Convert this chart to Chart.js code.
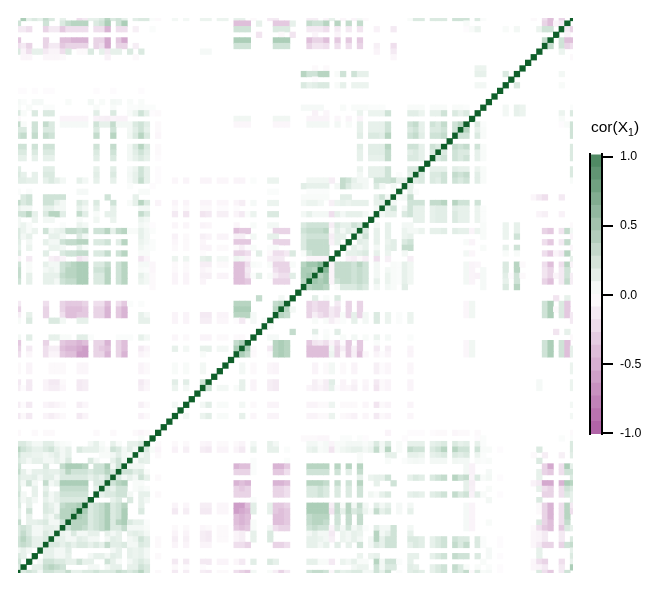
<!DOCTYPE html>
<html>
<head>
  <meta charset="UTF-8">
  <title>cor(X1)</title>
  <script src="https://cdn.jsdelivr.net/npm/chart.js"></script>
  <style>
    body { margin: 0; background: #fff; }
    canvas { position: absolute; }
    #legendTitle { position: absolute; left: 591px; top: 118px; font: 15.5px "Liberation Sans", Arial, sans-serif; color: #000; white-space: nowrap; }
    #legendTitle sub { font-size: 10.5px; line-height: 0; }
  </style>
</head>
<body>
  <canvas id="heat" width="661" height="590" style="left:0;top:0"></canvas>
  <canvas id="bar" width="86" height="310" style="left:575px;top:140px"></canvas>
  <div id="legendTitle">cor(X<sub>1</sub>)</div>
  <script>
    // variables 0..99, bottom-left to top-right
    const variables = Array.from({ length: 100 }, (_, i) => String(i));
    const barTicks = [-1, -0.5, 0, 0.5, 1];
    const barBins = 22;

    // below-diagonal readings, one string per row from the bottom: "col:value" in hundredths
    const rowsA = [
      "", "0:15", "0:20", "0:15 1:10", "0:5 1:10 2:5",
      "0:20 1:25 2:20 3:10 4:10",
      "0:20 1:30 2:20 3:10 4:10 5:15",
      "0:15 1:25 2:15 3:5 4:5 5:15 6:10",
      "0:15 1:20 2:15 3:5 4:5 5:10 6:10 7:8",
      "0:25 2:10 3:10 4:12 5:15 6:5 7:5 8:20",
      "0:10 2:10 5:10 6:5 7:15 8:30 9:30",
      "0:10 2:20 5:15 6:12 7:5 8:30 9:30 10:35",
      "0:15 2:10 5:15 6:10 7:5 8:25 9:30 10:30 11:35",
      "0:15 1:5 2:10 3:5 5:10 6:5 7:10 8-12:15",
      "0:20 1:5 3:10 5:15 6:5 7:10 8-12:20",
      "0:15 3:10 5:10 8-12:25 14:10",
      "0:15 1:5 2:20 3:5 5:25 6:5 7:10 8-12:35 14:15 15:15",
      "0:15 1:10 2:10 3:12 4:5 5:12 6:12 7:5 8-12:15 13:10 14:15 15:10 16:20",
      "0:25 1:10 2:3 3:10 4:10 5:12 6:10 7:10 8:15 9:30 10-12:20 13:15 14:20 15:20 16:30 17:15",
      "0:20 5:15 8:25 9-11:35 12:30 14:20 15:20 16:35 17:5 18:20",
      "0:15 1:10 2:5 3:10 4:10 5:5 6:5 7:10 8:5 9:15 13:15 14:5 17:10 18:20 19:5",
      "0:20 1:10 2:10 3:8 4:8 5:5 6:8 7:12 8:5 9:10 15:3 16:3 17:5 18:12 19:5 20:3",
      "0:30 1:20 2:15 3:10 4:10 5:15 6:20 7:10 8:5 9:10 11:15 12:10 13:10 14:10 15:5 16:3 17:20 18:15 19:5 20:12 21:5",
      "0:15 1:15 2:10 3:5 4:5 5:12 6:12 7:5 8:3 9:2 13:5 14:10 15:3 17:10 18:3 20:10 21:10 22:15",
      "22:3",
      "0:-3 3:-3 5:-3 6:-3 14:-3 17:-3 21:-3 22:-5 23:-3",
      "", "",
      "0:-10 1:-3 2:-10 5:-5 6:-8 7:-5 8:-3 11:-10 12:-5 22:-6 23:-3",
      "",
      "0:-8 1:-2 2:-10 5:-5 6:-7 7:-5 8:-3 11:-8 12:-4 22:-7 23:-3 28:5",
      "", "",
      "0:-8 1:-2 2:-10 5:-5 6:-8 7:-8 8:-4 11:-10 12:-8 22:-8 23:-4 28:8 30:5",
      "0:-10 2:-10 5:-5 6:-10 7:-10 8:-3 11:-10 12:-8 22:-10 23:-5 28:12 30:12 33:20",
      "",
      "0:-3 2:-5 6-8:-3 11:-4 12:-4 22:-5 23:-3 28:3 30:3 33:5",
      "0:-3 2:-5 6-8:-3 11:-4 12:-4 22:-5 23:-3 28:3 30:3 33:5",
      "",
      "0:-15 2:-4 5:-15 6:-5 7:-5 8:-25 9:-30 10:-30 11:-45 12:-45 14:-20 15:-20 16:-35 18:-20 19:-35 22:-5 23:-3 33:3"
    ];
    const rowsB = [
      "0:-20 2:-10 5:-15 6:-8 7:-8 8:-30 9:-35 10:-35 11:-40 12:-45 14:-20 15:-25 16:-30 18:-20 19:-30 22:-10 23:-5 28:10 30:5 33:10 34:10 36:5 37:5 39:35",
      "0:-25 5:-20 8:-25 9:-30 10:-30 11:-35 12:-30 14:-20 15:-20 16:-35 18:-20 19:-30 39:25 40:35",
      "0:5 2:12 6:10 7:10 8:3 9:3 11:12 12:12 13:2 18-20:2 22:10 23:5 28:-4 30:-3 33:-5 34:-5 36:-3 37:-3 39:-3 40:-3",
      "", "",
      "0:3 2:15 6:15 7:15 8:5 11:10 12:10 22:10 23:10 28:-5 30:-5 33:-8 34:-8 36:-4 37:-4 39:-2 40:-10 42:4 44:3",
      "0:-8 2:10 5:-20 8:-15 9:-30 10:-30 11:-25 12:-25 14:-20 15:-20 16:-35 18:-25 19:-35 22:10 23:5 28:-5 30:-5 33:-10 34:-10 36:-5 37:-5 39-41:30 42:4",
      "0:-20 5:-20 8:-20 9-11:-30 12:-25 14:-20 15:-20 16:-35 18:-25 19:-35 39-41:35 46:30",
      "0:-10 5:-15 8:-20 9-11:-25 12:-20 14:-15 15:-15 16:-30 18:-15 19:-25 20:2 22:2 39-41:30 46:25 47:30",
      "43:25 47:5",
      "",
      "24:-3",
      "0:20 2:10 5:10 6:10 7:5 8:20 9:25 10:25 11:35 12:35 14:15 15:15 16:30 18:20 19:30 22:8 23:5 24:-3 28:-5 30:-5 33:-5 39:-30 40:-30 41:-25 46-48:-20 51:30",
      "0:25 2:10 5:10 6:10 7:10 8:25 9:30 10:30 11:35 12:35 14:15 15:15 16:30 18:20 19:30 22:10 23:5 24:-3 28:-5 30:-5 33:-7 34:-7 36:-5 37:-5 39:-30 40:-30 41:-12 42:2 43:12 45:3 46:-8 47:-15 48:-15 49:12 51:35 52:40",
      "0:25 2:3 5:5 6:8 7:5 8:20 9:30 10:30 11:35 12:35 14:20 15:20 16:30 18:20 19:30 22:3 23:2 24:-4 28:-3 30:-3 33:-5 34:-3 39:-30 40:-30 41:-10 46:-15 47:-20 48:-20 51:35 52:35 53:30",
      "0:20 2:3 5:10 6:5 7:5 8:20 9:25 10:30 11:35 12:35 14:15 15:15 16:25 18:20 19:30 22:4 23:4 24:-4 28:-3 30:-3 33:-8 34:-8 36:-3 37:-3 39:-30 40:-30 41:-15 42:3 43:2 45:3 46-48:-20 49:3 51:30 52:40 53:40 54:50",
      "0:-4 2:-10 6:-7 7:-10 8:-5 11:-12 12:-8 22:-12 23:-5 28:8 30:7 33:10 34:12 36:5 37:5 39:7 40:5 41:-5 45:-8 46:-10 47:-10 52-55:-5",
      "0:15 5:12 8:15 9:20 10:20 11:25 12:25 14:15 15:15 16:25 18:20 19:30 22:3 23:3 33:-2 39:-20 40:-20 41:-15 43:12 45:-3 46:-15 47:-15 48:-10 49:15 51:3 52:20 53-55:25",
      "0:10 2:8 6:8 7:8 8:5 11:10 12:3 22:6 23:3 24:2 28:-3 30:-3 33:-5 34:-5 36:-3 37:-3 39:-3 40:-8 41:-2 42:3 45:2 46:3 51:15 52-55:25",
      "0:12 2:5 5:10 6:5 7:5 8:20 9:25 10:25 11:30 12:30 14:15 15:15 16:20 18:12 19:30 22:8 23:5 24:2 28:-4 30:-3 33:-4 39-41:-25 46-48:-20 51:15 52-55:25 56:-6 57:10",
      "0:15 1:5 2:10 6:10 7:10 8:5 11:15 12:5 22:10 23:5 28:-6 30:-3 33:-7 34:-5 36:-5 37:-5 39:-7 40:-7 42:5 45:10 46:10 51:15 52-55:20 56:-8 57:10 58:10",
      "0:15 1:8 2:3 3:8 5:20 6:5 7:8 8:10 9:25 10:25 11:20 12:25 14:20 15:20 16:30 17:10 18:25 19:30 20:3 21:3 22:10 23:5 24:2 39:-30 40:-25 41:-25 46-48:-20 51:20 52-54:25 55:30 56:-3 57:12 58:5 59:12 60:8",
      "0:5 1:8 2:3 8:2 11:8 12:5 22:5 23:3 24:-2 28:-4 30:-4 33:-5 34:-4 39:-4 42:3 45:5 46:5 51:15 52-55:20 56:-8 57:15 58:10 59:10 60:20 61:15",
      "0:5 3:8 5:5 6:5 11:3 14:6 17:8 22:8 23:5",
      "0:20 1:20 2:30 3:10 5:15 6:30 7:30 8:12 11:25 12:12 14:3 16:10 17:10 22:25 23:15 28:-10 30:-12 33:-12 34:-10 36:-7 37:-7 39:-5 40:-10 41:2 42:8 45:15 46:15 51:5 52:10 53:5 54:5 55:5 56:-15 57:10 58:5 59:10 60:10 61:10 62:5",
      "0:10 1:5 2:5 5:10 6:10 7:5 8:5 11:10 12:5 14:10 17:10 22:5 23:5 28:-3 30:-3 33:-3 34:-3 36:-2 37:-2 39:-2 64:5",
      "0:25 1:15 2:20 5:20 6:20 7:10 8:5 11:15 12:10 14:15 17:20 20:3 21:10 22:30 23:15 25:-5 28:-5 30:-5 33:-5 34:-5 36:-4 37:-4 39:-5 40:-8 42:4 45:8 46:8 51:5 52:8 53:8 54:5 56:-7 57:8 58:10 59:8 60:10 61:10 62:10 64:10 65:10",
      "1:15 2:20 5-8:20 16:20 21:10 51:3 52-55:3 58:12 59:12 64:10 65:20 66:5"
    ];
    const rowsC = [
      "0:2 2:2 11:4 12:4 22:3 23:3 45:2 46:2 52-55:2 67:3",
      "20:2 24:-2 51:12 52-55:10 57:5 58:25 59:15 60:8 61:8 62:5 64:15 65:5 67:5",
      "0:12 1:12 2:10 3:10 5:10 6:15 7:10 8:5 11:10 12:5 14:10 17:10 20:4 21:10 22:25 23:10 25:-2 28:-4 30:-5 33:-5 34:-5 36:-4 37:-4 39:-5 40:-5 42:2 45:8 46:8 52-55:6 56:-8 58:25 59:20 60:10 61:5 62:5 64:20 65:20 66:20 67:25 68:10 69:10",
      "0:15 1:10 3:10 5:15 6:15 14:12 17:15 20:5 21:10 22:20 23:10 25:-2 61:5 63-65:10 66:20 68:2 70:12",
      "0:12 5:12 6:12 14:10 17:12 20:4 21:8 22:20 23:10 25:-2 61:8 63-65:10 66:20 70:15 71:15",
      "",
      "0:10 1:10 3:10 5:10 6:10 14:12 17:15 20:5 21:10 22:15 23:10 25:-2 61:10 63-65:10 66:25 70:15 71:15 72:10",
      "0:15 1:15 3:15 5:15 6:15 14:15 17:20 20:5 21:12 22:20 23:12 25:-3 61:10 63-65:12 66:25 70:12 71:15 72:10 74:15",
      "0:20 1:20 3:20 5:20 6:20 14:20 17:25 20:5 21:15 22:30 23:15 25:-3 61:12 63-65:12 66:30 70:20 71:20 72:10 74:20 75:15",
      "",
      "0:20 1:25 3:25 5:25 6:20 14:25 17:30 20:6 21:15 22:30 23:15 25:-4 61:12 63:15 64:15 65:12 66:30 70:20 71:25 72:12 74:20 75:20 76:25",
      "0:15 1:15 3:20 5:15 6:15 14:15 17:20 20:5 21:12 22:20 23:10 25:-3 61:10 63-65:10 66:20 70:15 71:20 72:10 74:15 75:15 76:20 78:20",
      "0:25 1:3 3:20 5:25 6:15 8-12:4 14:20 15:10 16:10 17:25 18:5 19:5 20:5 21:15 22:20 23:12 25:-3 39-41:-4 46-48:-4 52-55:5 57:5 59:3 61:10 63-65:10 66:20 70:20 71:25 72:10 74:20 75:15 76:25 78:20 79:30",
      "0:-3 8-12:-5 14:-6 15:-7 16:-8 17:-5 18:-6 19:-6 39-41:6 46-48:6 52-55:-5 57:-4 59:-5 61:-5",
      "0:15 1:3 3:15 5:15 6:15 14:12 17:15 20:3 21:8 22:20 23:10 24:-2 25:-3 53:-6 55:-4 61:8 63-65:8 66:20 70:12 71:12 72:8 74:10 75:10 76:20 78:15 79:10 80:15",
      "0:3 2:3 5:2 6:2 14:3 17:3 20:2 21:2 22:3 23:2 24:2 51-54:4 58:3 60-62:3 63-65:2 70-72:3 74-76:3 78:3 79:3 80:2",
      "0:4 1:2 3:4 4:4 9:3 13:5 15:3 17:5 18:4 20:3 22:3",
      "",
      "0:-2 1:-2 3:-2 5:-2 6:-2 14:-2 17:-2 22:-2",
      "51:15 52:10 53:12 54:15 55:15 57:3 58:10 60-62:8 82:5 83:5",
      "53:-2",
      "51:30 52:20 53:20 54:30 55:30 57:3 58:20 60:20 61:10 62:10 82:10 83:10 87:15",
      "53:-3 55:-3 82:8 83:8",
      "",
      "1:-4 2:-4 5-7:-4 8:-3 16:-6 21:-3 67:-4",
      "0:15 1:-5 2:-15 3:10 4:10 5:-10 6:-5 7:-5 8:-15 9:15 11:-3 12:-3 13:15 15:10 16:-10 17:10 18:10 20:15 22:15 33:4 34:4 64:-5 67:-10",
      "0:-15 1:-10 2:-20 5:-20 6:-10 7:-10 8:-25 9-12:-20 14:-20 15:-15 16:-40 18:-20 19:-20 21:-8 39-41:20 46-48:20 52:-20 53:-12 54:-12 55:-15 57:-15 59:-15 61:-20 64:-7 67:-15",
      "0:-25 5:-20 8:-30 9:-30 10-12:-35 14:-20 15:-20 16:-40 18:-25 19:-40 39-41:35 46-48:35 52:-30 53:-20 54:-20 55:-30 57:-25 59:-25 61:-25 94:25",
      "43:-12 47:-3 49:-12 53:-5 57:-5",
      "0:-10 1:-10 2:-15 5:-20 6:-10 7:-10 8:-25 9-12:-15 14:-15 15:-15 16:-35 18:-15 19:-15 21:-7 24:2 39-41:20 46-48:15 52-54:-10 55:-15 57:-10 59:-10 61:-12 64:-6 67:-10 80:-2 81:3 82:8 87:3 89:5 93:8 94:20 95:20",
      "0:20 5:20 8:15 9:25 10-12:30 14:15 15:20 16:35 18:20 19:35 39-41:-30 43:10 46-48:-25 49:10 52:25 53:20 54:20 55:30 57:30 59:25 61:25 80:3 94:-20 95:-30 96:-5 97:-10",
      "1:35 2:10 3:15 4:10 5:25 6:15 8:10 11:-15 12:-10 13:10 14:10 15:15 16:30 17:15 18:20 19:10 21:12 22:15 23:15 24:2 25:-3 28:5 30:5 33:8 34:8 36:8 37:8 39:10 40:10 42:-3 45:-10 46:-10 52:-8 53:-8 55:-5 56:10 58:-4 60:-5 61:5 62:-3 70:3 71:15 72:15 74-76:15 78-80:20 82:15 83:2 92:-3 94:-15 95:-30 97:-20"
    ];

    // the matrix is symmetric, fill both halves from the readings
    const cor = variables.map((_, r) => variables.map((_, k) => (r === k ? 1 : 0)));
    rowsA.concat(rowsB, rowsC).forEach((row, r) => {
      row.split(" ").filter(Boolean).forEach(tok => {
        const [cols, val] = tok.split(":");
        const [a, b] = cols.split("-").map(Number);
        for (let k = a; k <= (b === undefined ? a : b); k++) {
          cor[r][k] = Number(val) / 100;
          cor[k][r] = Number(val) / 100;
        }
      });
    });

    function mix(end, t) {
      const c = end.map(e => Math.round(255 + (e - 255) * t));
      return `rgb(${c[0]},${c[1]},${c[2]})`;
    }

    // off-diagonal cells stay on the fresher mint side of the green ramp
    function cellColour(v) {
      if (v === 0) return "rgba(255,255,255,0)";
      if (v === 1) return "#0f5f2a";
      if (v > 0) return mix([136, 185, 154], v / 0.5);
      return mix([147, 40, 132], -v);
    }

    function barColour(v) {
      return mix(v > 0 ? [15, 95, 42] : [147, 40, 132], Math.abs(v) * 0.75);
    }

    new Chart(document.getElementById("heat"), {
      type: "bar",
      data: {
        labels: variables,
        datasets: variables.map((_, r) => ({
          data: variables.map(() => [r - 0.5, r + 0.5]),
          backgroundColor: variables.map((_, k) => cellColour(cor[r][k])),
          grouped: false,
          barPercentage: 1,
          categoryPercentage: 1,
          borderWidth: 0
        }))
      },
      options: {
        responsive: false,
        animation: false,
        events: [],
        layout: { padding: { left: 18, top: 18, right: 88, bottom: 17 } },
        plugins: { legend: { display: false }, tooltip: { enabled: false } },
        scales: {
          x: { type: "category", offset: false, display: false },
          y: { type: "linear", min: 0, max: 99, display: false }
        }
      }
    });

    // colour bar
    const binLabels = Array.from({ length: barBins }, (_, i) => i);
    const barLow = -1.0045, barHigh = 1.017;
    const binStep = (barHigh - barLow) / barBins;
    new Chart(document.getElementById("bar"), {
      type: "bar",
      data: {
        labels: ["cor"],
        datasets: binLabels.map(i => ({
          data: [[barLow + i * binStep, barLow + (i + 1) * binStep]],
          backgroundColor: barColour(Math.max(-1, Math.min(1, barLow + (i + 0.5) * binStep))),
          grouped: false,
          barPercentage: 1,
          categoryPercentage: 1,
          borderWidth: 0
        }))
      },
      options: {
        responsive: false,
        animation: false,
        events: [],
        layout: { padding: { left: 14, right: 0, top: 14, bottom: 16 } },
        plugins: { legend: { display: false }, tooltip: { enabled: false } },
        scales: {
          x: { display: false },
          y: {
            position: "right",
            min: barLow,
            max: barHigh,
            afterBuildTicks: axis => { axis.ticks = barTicks.map(value => ({ value })); },
            afterFit: axis => { axis.width = 59; },
            border: { color: "#000", width: 2, z: 1 },
            grid: { drawOnChartArea: false, color: "#000", lineWidth: 2, tickLength: 11 },
            ticks: {
              color: "#000",
              padding: 7,
              font: { family: "'Liberation Sans'", size: 12.4 },
              callback: v => v.toFixed(1)
            }
          },
          yLeft: {
            position: "left",
            min: barLow,
            max: barHigh,
            afterFit: axis => { axis.width = 1; },
            border: { color: "#000", width: 2, z: 1 },
            grid: { display: false },
            ticks: { display: false }
          }
        }
      }
    });
  </script>
</body>
</html>
